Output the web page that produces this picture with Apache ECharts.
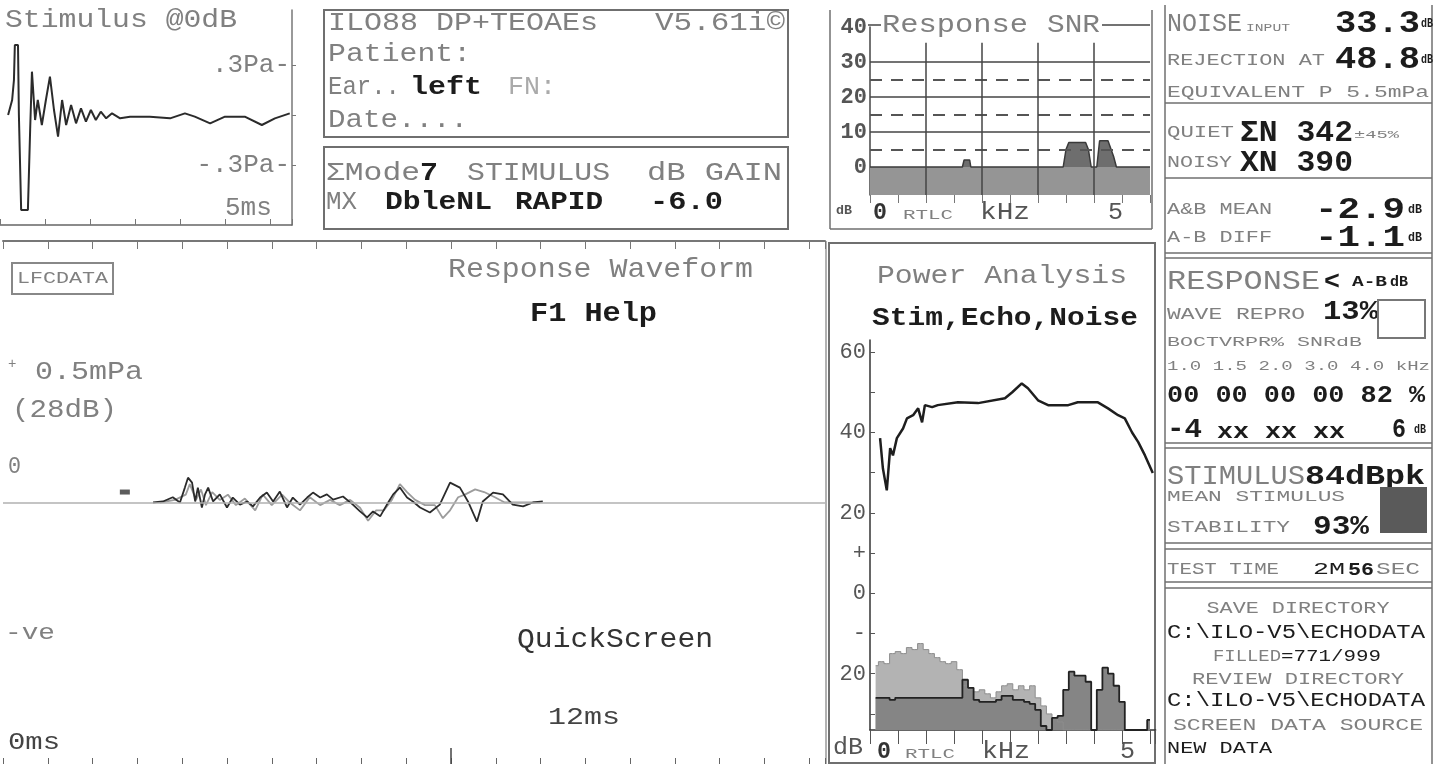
<!DOCTYPE html>
<html>
<head>
<meta charset="utf-8">
<title>ILO88 TEOAE screen</title>
<script src="https://cdn.jsdelivr.net/npm/echarts@6.0.0/dist/echarts.min.js"></script>
<style>
  html, body { margin: 0; padding: 0; background: #fff; }
  #main { width: 1445px; height: 764px; }
</style>
</head>
<body>
<div id="main"></div>
<script>
// ---- stimulus waveform (ms, Pa)
const stimT = [0.18,0.27,0.31,0.33,0.40,0.42,0.47,0.62,0.67,0.71,0.78,0.84,0.93,1.02,1.11,1.20,1.29,1.38,1.47,1.58,
  1.69,1.80,1.91,2.02,2.13,2.24,2.36,2.49,2.67,2.89,3.33,3.78,4.11,4.33,4.67,5.00,5.44,5.82,6.11,6.44];
const stimPa = [0,0.09,0.21,0.42,0.42,0,-0.57,-0.57,-0.09,0.26,-0.03,0.09,-0.06,0.09,0.23,0.03,-0.13,0.09,-0.06,0.06,
  -0.05,0.04,-0.04,0.03,-0.03,0.02,-0.02,0.01,-0.02,-0.01,-0.01,-0.02,0.01,-0.01,-0.05,-0.01,-0.01,-0.06,-0.02,0.01];

// ---- response SNR (kHz, dB)
const snrF  = [0,1.65,1.68,1.78,1.80,3.45,3.50,3.55,3.85,3.90,3.95,4.05,4.10,4.25,4.35,4.40,5.0];
const snrDb = [0,0,2,2,0,0,5,7,7,5,0,0,7.5,7.5,3,0,0];
const snrFloor = -8;
const snrSolid = [10,20,30];
const snrDashed = [5,15,25];
const snrBands = [1,2,3,4];
const snrBandTop = 35.5;

// ---- power analysis spectra (kHz, dB)
const paF = [0.1,0.2,0.3,0.4,0.5,0.6,0.7,0.8,0.9,1.0,1.1,1.2,1.3,1.4,1.5,1.6,1.7,1.8,1.9,2.0,
  2.1,2.2,2.3,2.4,2.5,2.6,2.7,2.8,2.9,3.0,3.1,3.2,3.3,3.4,3.5,3.6,3.7,3.8,3.9,4.0,
  4.1,4.2,4.3,4.4,4.5,4.6,4.7,4.8,4.9,5.0];
const noiseDb = [-18,-17,-17.5,-15,-14.5,-15,-13.5,-14,-12.5,-14,-15,-16,-17,-17.5,-17,-19,-23,-24,-24.5,-24,
  -25,-26,-24.5,-23,-22.5,-24,-23,-24,-23,-26,-28,-30,-31,-32,-34,-34,-34,-34,-34,-34,
  -34,-34,-34,-34,-34,-34,-34,-34,-34,-34];
const echoDb = [-26,-26,-26,-26.5,-26,-26,-26,-26,-26,-26,-26,-26,-26,-26,-26,-26,-21.5,-23.5,-26.5,-27,
  -27,-27,-26.5,-25.5,-25.5,-26.5,-26.5,-27,-27.5,-29,-33,-34,-31,-30.5,-24,-19.5,-20.5,-20.5,-22,-34,
  -24,-18.5,-20,-23,-27,-34,-34,-34,-34,-31.5];
const stimSpecF = [0.18,0.23,0.30,0.36,0.41,0.48,0.59,0.66,0.77,0.86,0.93,0.98,1.11,1.21,1.57,1.93,2.41,2.54,2.71,2.82,
  3.00,3.18,3.54,3.71,4.07,4.25,4.43,4.55,4.68,4.79,4.91,5.05];
const stimSpecDb = [38.6,31.1,25.6,36.1,34.3,38.6,41.0,43.5,44.3,46.0,42.5,46.8,46.3,46.8,47.5,47.3,48.5,50.0,52.2,51.0,
  48.0,46.8,46.8,47.5,47.5,46.0,44.3,43.5,40.0,37.6,34.3,29.9];
const paLabels = {60:'60', 40:'40', 20:'20', 10:'+', 0:'0', '-10':'-', '-20':'20'};

// ---- response waveform, buffers A and B (ms, mPa)
const waT = [3.35,3.57,3.79,3.95,4.06,4.13,4.22,4.29,4.35,4.44,4.51,4.58,4.69,4.84,5.00,5.13,5.29,5.45,5.58,5.74,
  5.89,6.03,6.18,6.34,6.47,6.63,6.79,6.92,7.08,7.23,7.37,7.59,7.81,7.97,8.13,8.26,8.42,8.57,8.71,8.86,
  9.02,9.15,9.31,9.53,9.75,9.98,10.2,10.38,10.58,10.71,10.94,11.16,11.38,11.61,11.83,12.05];
const waV = [0,0.004,0.02,0,0.057,0.095,0.076,0.004,0.057,-0.019,0.031,0.057,0.004,0.031,-0.019,0.019,-0.008,0.004,-0.015,0.019,
  0.038,0.004,0.042,-0.019,0.019,-0.008,0.019,0.038,0.019,0.031,0.011,0.023,-0.008,-0.034,-0.057,-0.034,-0.053,-0.008,0.031,0.057,
  0.019,0.004,-0.019,-0.038,-0.008,0.076,0.057,0.004,-0.073,0.004,0.038,0.031,-0.008,-0.015,0,0.004];
const wbT = [3.5,3.84,4.08,4.17,4.31,4.42,4.53,4.67,4.84,5.02,5.2,5.4,5.63,5.8,6.0,6.23,6.4,6.63,6.85,7.08,
  7.3,7.52,7.75,7.97,8.15,8.33,8.5,8.68,8.86,9.02,9.2,9.42,9.64,9.82,9.98,10.16,10.31,10.54,10.74,10.98,
  11.2,11.54,11.99];
const wbV = [0,0.01,0.03,0.07,0.01,0.05,-0.01,0.04,0.01,0.03,-0.01,0.015,-0.03,0.03,-0.01,0.03,0,-0.03,0.02,-0.01,
  0.01,-0.01,0.01,-0.02,-0.07,-0.03,-0.03,0.01,0.07,0.04,0.01,-0.01,-0.01,-0.06,-0.03,0.02,0.03,0.05,0.04,0.02,
  0,0,0];
const markT = [2.72];
const markV = [0.04];

const MONO = '"Liberation Mono", "DejaVu Sans Mono", monospace';
const GREY = '#808080', INK = '#1c1c1c', RULE = '#6f6f6f';
const zip = (a, b) => a.map((v, i) => [v, b[i]]);

// text squeezed/stretched to the width it has on the screen
function txt(x, y, s, size, w, o) {
  o = o || {};
  const natural = s.length * size * 0.6;
  return {
    type: 'text', x: x, y: y, silent: true,
    scaleX: w ? w / natural : 1,
    style: {
      text: s, x: 0, y: 0, fill: o.c || GREY,
      fontFamily: MONO, fontSize: size, fontWeight: o.b ? 'bold' : 'normal',
      textAlign: o.a || 'left', textVerticalAlign: 'middle'
    }
  };
}
function hl(x1, x2, y, c, lw) {
  return { type: 'line', silent: true, shape: { x1: x1, y1: y, x2: x2, y2: y }, style: { stroke: c || RULE, lineWidth: lw || 1.5 } };
}
function vl(x, y1, y2, c, lw) {
  return { type: 'line', silent: true, shape: { x1: x, y1: y1, x2: x, y2: y2 }, style: { stroke: c || RULE, lineWidth: lw || 1.5 } };
}
function box(x, y, w, h, c) {
  return { type: 'rect', silent: true, shape: { x: x, y: y, width: w, height: h }, style: { fill: null, stroke: c || RULE, lineWidth: 2 } };
}

const B = { b: true, c: INK };
const graphics = [
  // stimulus panel
  txt(5, 20, 'Stimulus @0dB', 26, 232),

  // header boxes
  box(324, 10, 464, 127), box(324, 147, 464, 82),
  txt(328, 23, 'ILO88 DP+TEOAEs', 26, 270),
  txt(655, 23, 'V5.61i©', 26, 130),
  txt(328, 54, 'Patient:', 26, 143),
  txt(328, 87, 'Ear..', 26, 72),
  txt(410, 87, 'left', 26, 72, B),
  txt(508, 87, 'FN:', 26, 48, { c: '#aaa' }),
  txt(328, 120, 'Date....', 26, 140),
  txt(326, 173, 'ΣMode', 26, 94),
  txt(420, 173, '7', 26, 18, B),
  txt(467, 173, 'STIMULUS', 26, 143),
  txt(647, 173, 'dB GAIN', 26, 135),
  txt(326, 202, 'MX', 26, 31),
  txt(385, 202, 'DbleNL', 26, 107, B),
  txt(515, 202, 'RAPID', 26, 88, B),
  txt(650, 202, '-6.0', 26, 73, B),

  // SNR panel
  vl(830, 10, 229), vl(1152, 10, 229), hl(830, 1152, 229),
  hl(868, 881, 25, '#444'), hl(1102, 1150, 25, '#444'),
  txt(882, 25, 'Response', 26, 146),
  txt(1047, 25, 'SNR', 26, 53),
  txt(836, 211, 'dB', 13, 16, { c: '#555', b: true }),
  txt(873, 213, '0', 24, 14, { c: '#333', b: true }),
  txt(903, 216, 'RTLC', 12, 50),
  txt(980, 213, 'kHz', 24, 50, { c: '#555' }),
  txt(1108, 213, '5', 24, 15, { c: '#555' }),

  // power analysis panel
  box(829, 243, 326, 520),
  txt(1002, 276, 'Power Analysis', 26, 250, { a: 'center' }),
  txt(1005, 318, 'Stim,Echo,Noise', 26, 266, { a: 'center', b: true, c: INK }),
  txt(833, 748, 'dB', 24, 30, { c: '#555' }),
  txt(877, 752, '0', 24, 14, { c: '#333', b: true }),
  txt(905, 755, 'RTLC', 12, 50),
  txt(982, 752, 'kHz', 24, 48, { c: '#555' }),
  txt(1120, 752, '5', 24, 15, { c: '#555' }),

  // response waveform panel
  vl(826, 241, 764, '#999'),
  box(12, 263, 101, 31, '#888'),
  txt(17, 279, 'LFCDATA', 16, 91),
  txt(448, 270, 'Response Waveform', 28, 305),
  txt(530, 314, 'F1 Help', 28, 127, B),
  txt(8, 364, '+', 14),
  txt(35, 372, '0.5mPa', 26, 108),
  txt(12, 410, '(28dB)', 26, 105),
  txt(8, 467, '0', 24, 13),
  txt(5, 633, '-ve', 22, 50),
  txt(517, 640, 'QuickScreen', 28, 196, { c: '#333' }),
  txt(548, 718, '12ms', 24, 72, { c: '#444' }),
  txt(8, 743, '0ms', 24, 52, { c: '#444' }),

  // right status column
  vl(1165, 5, 764), vl(1432, 5, 764),
  hl(1165, 1432, 103), hl(1165, 1432, 178),
  hl(1165, 1432, 253), hl(1165, 1432, 258),
  hl(1165, 1432, 443), hl(1165, 1432, 448),
  hl(1165, 1432, 543), hl(1165, 1432, 549),
  hl(1165, 1432, 582), hl(1165, 1432, 588),
  txt(1167, 24, 'NOISE', 26, 75),
  txt(1246, 28, 'INPUT', 11, 44),
  txt(1335, 24, '33.3', 32, 85, B),
  txt(1421, 24, 'dB', 12, 12, B),
  txt(1167, 61, 'REJECTION AT', 16, 158),
  txt(1335, 60, '48.8', 32, 85, B),
  txt(1421, 60, 'dB', 12, 12, B),
  txt(1167, 93, 'EQUIVALENT P 5.5mPa', 16, 262),
  txt(1167, 133, 'QUIET', 16, 67),
  txt(1240, 133, 'ΣN 342', 30, 113, B),
  txt(1354, 135, '±45%', 11, 45),
  txt(1167, 163, 'NOISY', 16, 65),
  txt(1240, 163, 'XN 390', 30, 113, B),
  txt(1167, 210, 'A&B MEAN', 16, 105),
  txt(1315, 210, '-2.9', 30, 90, B),
  txt(1408, 210, 'dB', 12, 14, B),
  txt(1167, 238, 'A-B DIFF', 16, 105),
  txt(1315, 238, '-1.1', 30, 90, B),
  txt(1408, 238, 'dB', 12, 14, B),
  txt(1167, 282, 'RESPONSE', 28, 153),
  txt(1324, 282, '<', 26, 16, B),
  txt(1352, 282, 'A-B', 15, 35, B),
  txt(1390, 282, 'dB', 15, 18, B),
  txt(1167, 314, 'WAVE REPRO', 17, 138),
  txt(1323, 312, '13%', 28, 55, B),
  box(1378, 300, 47, 38, '#777'),
  txt(1167, 343, 'BOCTVRPR% SNRdB', 13, 195),
  txt(1167, 367, '1.0 1.5 2.0 3.0 4.0 kHz', 13, 263),
  txt(1167, 396, '00 00 00 00 82 %', 24, 258, B),
  txt(1167, 430, '-4', 28, 35, B),
  txt(1217, 432, 'xx xx xx', 22, 128, B),
  txt(1392, 430, '6', 28, 14, B),
  txt(1414, 430, 'dB', 13, 12, B),
  txt(1167, 477, 'STIMULUS', 28, 138),
  txt(1305, 477, '84dBpk', 28, 120, B),
  txt(1167, 497, 'MEAN STIMULUS', 15, 178),
  { type: 'rect', silent: true, shape: { x: 1380, y: 487, width: 47, height: 46 }, style: { fill: '#5a5a5a' } },
  txt(1167, 528, 'STABILITY', 16, 123),
  txt(1313, 527, '93%', 28, 56, B),
  txt(1167, 570, 'TEST TIME', 16, 112),
  txt(1313, 570, '2M', 16, 32, { c: INK }),
  txt(1348, 570, '56', 18, 26, B),
  txt(1376, 570, 'SEC', 16, 44),
  txt(1298, 608, 'SAVE DIRECTORY', 17, 183, { a: 'center' }),
  txt(1167, 633, 'C:\\ILO-V5\\ECHODATA', 20, 258, { c: INK }),
  txt(1213, 656, 'FILLED', 17, 68),
  txt(1281, 656, '=771/999', 17, 100, { c: INK }),
  txt(1298, 679, 'REVIEW DIRECTORY', 17, 212, { a: 'center' }),
  txt(1167, 701, 'C:\\ILO-V5\\ECHODATA', 20, 258, { c: INK }),
  txt(1298, 725, 'SCREEN DATA SOURCE', 17, 250, { a: 'center' }),
  txt(1167, 748, 'NEW DATA', 17, 105, { c: INK })
];

const axisFont = { fontFamily: MONO, color: '#555' };
const chart = echarts.init(document.getElementById('main'));
chart.setOption({
  backgroundColor: '#fff',
  animation: false,
  grid: [
    { left: 0, top: 10, width: 292, height: 215 },      // stimulus
    { left: 870, top: 27, width: 280, height: 168 },    // response SNR
    { left: 870, top: 340, width: 285.6, height: 390 }, // power analysis
    { left: 3, top: 241, width: 822, height: 524 }      // response waveform
  ],
  xAxis: [
    { gridIndex: 0, type: 'value', min: 0, max: 6.49, interval: 1, position: 'bottom',
      axisLine: { onZero: false, lineStyle: { color: '#666', width: 1.5 } },
      axisTick: { inside: true, length: 6, lineStyle: { color: '#777' } },
      axisLabel: { inside: true, customValues: [5], formatter: () => '5ms', align: 'left', margin: 4,
        fontSize: 26, fontFamily: MONO, color: GREY },
      splitLine: { show: false } },
    { gridIndex: 1, type: 'value', min: 0, max: 5, interval: 0.5,
      axisLine: { show: false, onZero: false },
      axisTick: { length: 8, lineStyle: { color: '#777' } },
      axisLabel: { show: false }, splitLine: { show: false } },
    { gridIndex: 2, type: 'value', min: 0, max: 5.1, interval: 0.5,
      axisLine: { onZero: false, lineStyle: { color: '#333', width: 1.5 } },
      axisTick: { length: 14, lineStyle: { color: '#555' } },
      axisLabel: { show: false }, splitLine: { show: false } },
    { gridIndex: 3, type: 'value', min: 0, max: 18.35, interval: 1, position: 'top',
      axisLine: { onZero: false, lineStyle: { color: '#777', width: 2 } },
      axisTick: { inside: true, length: 8, lineStyle: { color: '#777' } },
      axisLabel: { show: false }, splitLine: { show: false } },
    { gridIndex: 3, type: 'value', min: 0, max: 18.35, interval: 1, position: 'bottom',
      axisLine: { show: false, onZero: false },
      axisTick: { inside: true, length: 6, lineStyle: { color: '#666' } },
      axisLabel: { show: false }, splitLine: { show: false } },
    { gridIndex: 3, type: 'value', min: 0, max: 18.35, position: 'bottom',
      axisLine: { show: false, onZero: false },
      axisTick: { inside: true, length: 16, customValues: [10], lineStyle: { color: '#444', width: 1.5 } },
      axisLabel: { show: false }, splitLine: { show: false } }
  ],
  yAxis: [
    { gridIndex: 0, type: 'value', min: -0.66, max: 0.63, position: 'right',
      axisLine: { show: true, onZero: false, lineStyle: { color: '#777', width: 1.5 } },
      axisTick: { show: true, length: 4, customValues: [0.3, 0, -0.3], lineStyle: { color: '#777' } },
      axisLabel: { inside: true, margin: 2, customValues: [0.3, -0.3], fontSize: 26, fontFamily: MONO, color: GREY,
        formatter: v => (v > 0 ? '.3Pa-' : '-.3Pa-') },
      splitLine: { show: false } },
    { gridIndex: 1, type: 'value', min: snrFloor, max: 40,
      axisLine: { show: true, onZero: false, lineStyle: { color: '#444', width: 1.5 } },
      axisTick: { show: false },
      axisLabel: Object.assign({ customValues: [0, 10, 20, 30, 40], margin: 3, fontSize: 22, fontWeight: 'bold' }, axisFont),
      splitLine: { show: false } },
    { gridIndex: 2, type: 'value', min: -34, max: 63,
      axisLine: { show: true, onZero: false, lineStyle: { color: '#333', width: 1.5 } },
      axisTick: { show: true, inside: true, length: 5, customValues: [-30, -20, -10, 0, 10, 20, 30, 40, 50, 60],
        lineStyle: { color: '#555' } },
      axisLabel: Object.assign({ customValues: [60, 40, 20, 10, 0, -10, -20], margin: 4, fontSize: 22,
        formatter: v => paLabels[v] }, axisFont),
      splitLine: { show: false } },
    { gridIndex: 3, type: 'value', min: -1, max: 1, show: false }
  ],
  series: [
    { name: 'Stimulus', type: 'line', xAxisIndex: 0, yAxisIndex: 0, data: zip(stimT, stimPa),
      symbol: 'none', silent: true, lineStyle: { color: '#2b2b2b', width: 2 } },
    { name: 'SNR', type: 'line', xAxisIndex: 1, yAxisIndex: 1, data: zip(snrF, snrDb),
      symbol: 'none', silent: true, z: 3,
      lineStyle: { color: '#3a3a3a', width: 1.5 }, areaStyle: { color: '#6e6e6e', opacity: 1 },
      markArea: { silent: true, itemStyle: { color: '#959595' }, data: [[{ yAxis: snrFloor }, { yAxis: 0 }]] },
      markLine: { silent: true, symbol: 'none', label: { show: false },
        lineStyle: { color: '#444', width: 1.5, type: 'solid' },
        data: [].concat(
          snrSolid.map(v => ({ yAxis: v })),
          snrDashed.map(v => ({ yAxis: v, lineStyle: { type: [12, 9], width: 2, color: '#555' } })),
          snrBands.map(v => [{ coord: [v, snrBandTop] }, { coord: [v, snrFloor] }]) ) } },
    { name: 'Noise', type: 'line', xAxisIndex: 2, yAxisIndex: 2, step: 'middle', data: zip(paF, noiseDb),
      symbol: 'none', silent: true, lineStyle: { color: '#8d8d8d', width: 1 },
      areaStyle: { color: '#b3b3b3', origin: 'start', opacity: 1 } },
    { name: 'Echo', type: 'line', xAxisIndex: 2, yAxisIndex: 2, step: 'middle', data: zip(paF, echoDb),
      symbol: 'none', silent: true, lineStyle: { color: '#222', width: 1.8 },
      areaStyle: { color: '#858585', origin: 'start', opacity: 1 } },
    { name: 'Stim spectrum', type: 'line', xAxisIndex: 2, yAxisIndex: 2, data: zip(stimSpecF, stimSpecDb),
      symbol: 'none', silent: true, lineStyle: { color: '#1e1e1e', width: 2.5 } },
    { name: 'Wave B', type: 'line', xAxisIndex: 3, yAxisIndex: 3, data: zip(wbT, wbV),
      symbol: 'none', silent: true, lineStyle: { color: '#9c9c9c', width: 1.8 } },
    { name: 'Wave A', type: 'line', xAxisIndex: 3, yAxisIndex: 3, data: zip(waT, waV),
      symbol: 'none', silent: true, lineStyle: { color: '#2b2b2b', width: 1.8 },
      markLine: { silent: true, symbol: 'none', label: { show: false },
        lineStyle: { color: '#b0b0b0', width: 1.5, type: 'solid' }, data: [{ yAxis: 0 }] } },
    { name: 'Window', type: 'scatter', xAxisIndex: 3, yAxisIndex: 3, data: zip(markT, markV),
      symbol: 'rect', symbolSize: [10, 5], silent: true, itemStyle: { color: '#333' } }
  ],
  graphic: { elements: graphics }
});
</script>
</body>
</html>
